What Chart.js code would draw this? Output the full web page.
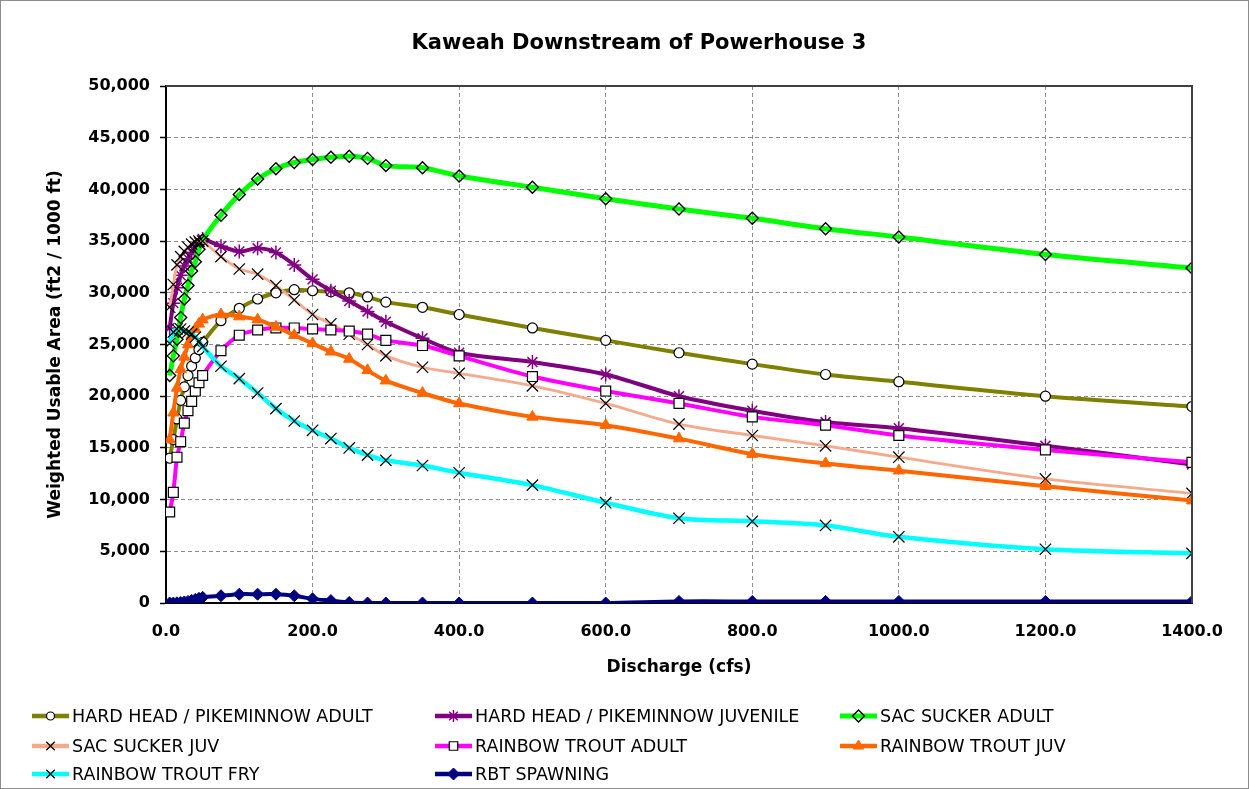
<!DOCTYPE html>
<html>
<head>
<meta charset="utf-8">
<script src="https://cdn.jsdelivr.net/npm/chart.js@4"></script>
<style>
  html, body { margin: 0; padding: 0; background: #fff; }
  #wrap { width: 1249px; height: 789px; position: relative; }
</style>
</head>
<body>
<div id="wrap"><canvas id="wua-chart"></canvas></div>
<script>
const discharge = [5, 10, 15, 20, 25, 30, 35, 40, 45, 50, 75, 100, 125, 150, 175, 200, 225, 250, 275, 300, 350, 400, 500, 600, 700, 800, 900, 1000, 1200, 1400];

const hhAdult = [14000, 15800, 17800, 19600, 20900, 22000, 22900, 23700, 24500, 25200, 27300, 28500, 29400, 30000, 30300, 30200, 30100, 30000, 29600, 29100, 28600, 27900, 26600, 25400, 24200, 23100, 22100, 21400, 20000, 19000];
const hhJuvenile = [26600, 29000, 30500, 31700, 32600, 33300, 33900, 34400, 34900, 35200, 34500, 34000, 34300, 33900, 32700, 31300, 30200, 29200, 28200, 27200, 25600, 24200, 23300, 22100, 20000, 18600, 17500, 16900, 15200, 13400];
const sacAdult = [22000, 23900, 25500, 27600, 29400, 30700, 32100, 33000, 34200, 35100, 37500, 39500, 41000, 42000, 42600, 42900, 43100, 43200, 43000, 42300, 42100, 41300, 40200, 39100, 38100, 37200, 36200, 35400, 33700, 32400];
const sacJuv = [28600, 30800, 32700, 33500, 34000, 34400, 34700, 34900, 35000, 35000, 33500, 32300, 31800, 30700, 29300, 27900, 27000, 26000, 25000, 23900, 22800, 22200, 21000, 19300, 17300, 16200, 15200, 14100, 12000, 10600];
const rbtAdult = [8800, 10700, 14100, 15600, 17400, 18600, 19500, 20500, 21300, 22000, 24400, 25900, 26400, 26600, 26600, 26500, 26400, 26300, 26000, 25400, 24900, 23900, 21900, 20500, 19300, 18000, 17200, 16200, 14800, 13600];
const rbtJuv = [15800, 18400, 20800, 22600, 23800, 25000, 25900, 26500, 27000, 27400, 27900, 27700, 27400, 26700, 25900, 25100, 24300, 23600, 22500, 21500, 20300, 19300, 18000, 17200, 15900, 14400, 13500, 12800, 11300, 9900];
const rbtFry = [25100, 26200, 26500, 26500, 26300, 26200, 26000, 25700, 25300, 24800, 22900, 21700, 20300, 18800, 17600, 16700, 15900, 15000, 14300, 13800, 13300, 12600, 11400, 9700, 8200, 7900, 7500, 6400, 5200, 4800];
const rbtSpawning = [0, 0, 20, 50, 100, 150, 250, 350, 450, 550, 700, 850, 850, 850, 700, 400, 230, 60, 0, 0, 0, 0, 0, 0, 150, 150, 150, 150, 150, 150];

const AXIS_FONT = "'DejaVu Sans', 'Liberation Sans', Arial, sans-serif";

function toPoints(values) {
    return discharge.map((x, i) => ({ x, y: values[i] }));
}

function series(label, values, style) {
    return {
        label,
        data: toPoints(values),
        borderColor: style.line,
        backgroundColor: style.line,
        borderWidth: style.width,
        tension: 0.3,
        pointStyle: style.point,
        pointRadius: style.radius,
        pointHoverRadius: style.radius,
        pointBorderColor: style.pointBorder,
        pointBackgroundColor: style.pointFill,
        pointBorderWidth: style.pointWidth,
    };
}

const datasets = [
    series('HARD HEAD / PIKEMINNOW ADULT', hhAdult, { line: '#808000', width: 4, point: 'circle', radius: 5, pointBorder: '#000', pointFill: '#fff', pointWidth: 1.2 }),
    series('HARD HEAD / PIKEMINNOW JUVENILE', hhJuvenile, { line: '#800080', width: 4, point: 'star', radius: 7, pointBorder: '#800080', pointFill: '#800080', pointWidth: 1.5 }),
    series('SAC SUCKER ADULT', sacAdult, { line: '#00ff00', width: 5, point: 'rectRot', radius: 6, pointBorder: '#000', pointFill: 'rgba(0,0,0,0)', pointWidth: 1.4 }),
    series('SAC SUCKER JUV', sacJuv, { line: '#f4aa8c', width: 2.8, point: 'crossRot', radius: 8, pointBorder: '#000', pointFill: '#000', pointWidth: 1.2 }),
    series('RAINBOW TROUT ADULT', rbtAdult, { line: '#ff00ff', width: 4, point: 'rect', radius: 7, pointBorder: '#000', pointFill: '#fff', pointWidth: 1.2 }),
    series('RAINBOW TROUT JUV', rbtJuv, { line: '#ff6600', width: 4, point: 'triangle', radius: 6.5, pointBorder: '#ff6600', pointFill: '#ff6600', pointWidth: 1 }),
    series('RAINBOW TROUT FRY', rbtFry, { line: '#00ffff', width: 4.5, point: 'crossRot', radius: 8, pointBorder: '#000', pointFill: '#000', pointWidth: 1.2 }),
    series('RBT SPAWNING', rbtSpawning, { line: '#000080', width: 4, point: 'rectRot', radius: 6, pointBorder: '#000080', pointFill: '#000080', pointWidth: 1 }),
];
// later series sit on top, like the spreadsheet
datasets.forEach((ds, i) => { ds.order = datasets.length - i; });

const legendCols = [32, 435, 840];
const legendRows = [716, 746, 774];

const frameAndLegend = {
    id: 'frameAndLegend',
    afterDraw(chart) {
        const { ctx, chartArea } = chart;
        ctx.save();

        // plot frame top / right
        ctx.strokeStyle = '#404040';
        ctx.lineWidth = 2;
        ctx.beginPath();
        ctx.moveTo(chartArea.left, chartArea.top);
        ctx.lineTo(chartArea.right, chartArea.top);
        ctx.lineTo(chartArea.right, chartArea.bottom);
        ctx.stroke();

        // title
        ctx.fillStyle = '#000';
        ctx.font = `bold 21px ${AXIS_FONT}`;
        ctx.textAlign = 'center';
        ctx.textBaseline = 'middle';
        ctx.fillText('Kaweah Downstream of Powerhouse 3', 639, 44);

        // legend, 3 columns
        ctx.font = `17.5px ${AXIS_FONT}`;
        ctx.textAlign = 'left';
        chart.data.datasets.forEach((ds, i) => {
            const x = legendCols[i % 3];
            const y = legendRows[Math.floor(i / 3)];
            ctx.strokeStyle = ds.borderColor;
            ctx.lineWidth = Math.max(ds.borderWidth, 4.5);
            ctx.beginPath();
            ctx.moveTo(x, y);
            ctx.lineTo(x + 37, y);
            ctx.stroke();

            ctx.strokeStyle = ds.pointBorderColor;
            ctx.fillStyle = ds.pointBackgroundColor;
            ctx.lineWidth = ds.pointBorderWidth;
            Chart.helpers.drawPoint(ctx, {
                pointStyle: ds.pointStyle,
                radius: ds.pointStyle === 'circle' ? 4 : Math.min(ds.pointRadius, 6),
                rotation: 0,
                borderWidth: ds.pointBorderWidth,
            }, x + 18.5, y);

            ctx.fillStyle = '#000';
            ctx.fillText(ds.label, x + 40, y + 1);
        });

        // outer chart border
        ctx.strokeStyle = '#8c8c8c';
        ctx.lineWidth = 1;
        ctx.strokeRect(0.5, 0.5, chart.width - 1, chart.height - 1);
        ctx.restore();
    },
};

new Chart(document.getElementById('wua-chart'), {
    type: 'line',
    data: { datasets },
    plugins: [frameAndLegend],
    options: {
        responsive: true,
        maintainAspectRatio: false,
        animation: false,
        layout: { padding: { left: 0, top: 86, right: 57, bottom: 96 } },
        plugins: {
            legend: { display: false },
            title: { display: false },
            tooltip: { enabled: false },
        },
        scales: {
            x: {
                type: 'linear',
                min: 0,
                max: 1400,
                afterFit: (scale) => { scale.height = 90; },
                grid: { color: '#8c8c8c', lineWidth: 1, drawTicks: false },
                border: { display: true, color: '#000', width: 2, dash: [4, 3] },
                ticks: {
                    stepSize: 200,
                    padding: 19,
                    color: '#000',
                    maxRotation: 0,
                    font: { family: AXIS_FONT, size: 16, weight: 'bold' },
                    callback: (value) => Number(value).toFixed(1),
                },
                title: {
                    display: true,
                    text: 'Discharge (cfs)',
                    color: '#000',
                    font: { family: AXIS_FONT, size: 17, weight: 'bold' },
                    padding: { top: 0, bottom: 15 },
                },
            },
            y: {
                type: 'linear',
                min: 0,
                max: 50000,
                afterFit: (scale) => { scale.width = 166; },
                grid: { color: '#8c8c8c', lineWidth: 1, drawTicks: true, tickLength: 6, tickColor: '#000', tickWidth: 1.5 },
                border: { display: true, color: '#000', width: 2, dash: [4, 3] },
                ticks: {
                    stepSize: 5000,
                    padding: 10,
                    color: '#000',
                    font: { family: AXIS_FONT, size: 16, weight: 'bold' },
                    callback: (value) => Number(value).toLocaleString('en-US'),
                },
                title: {
                    display: true,
                    text: 'Weighted Usable Area (ft2 / 1000 ft)',
                    color: '#000',
                    font: { family: AXIS_FONT, size: 17, weight: 'bold' },
                    padding: { top: 45, bottom: 0 },
                },
            },
        },
    },
});
</script>
</body>
</html>
